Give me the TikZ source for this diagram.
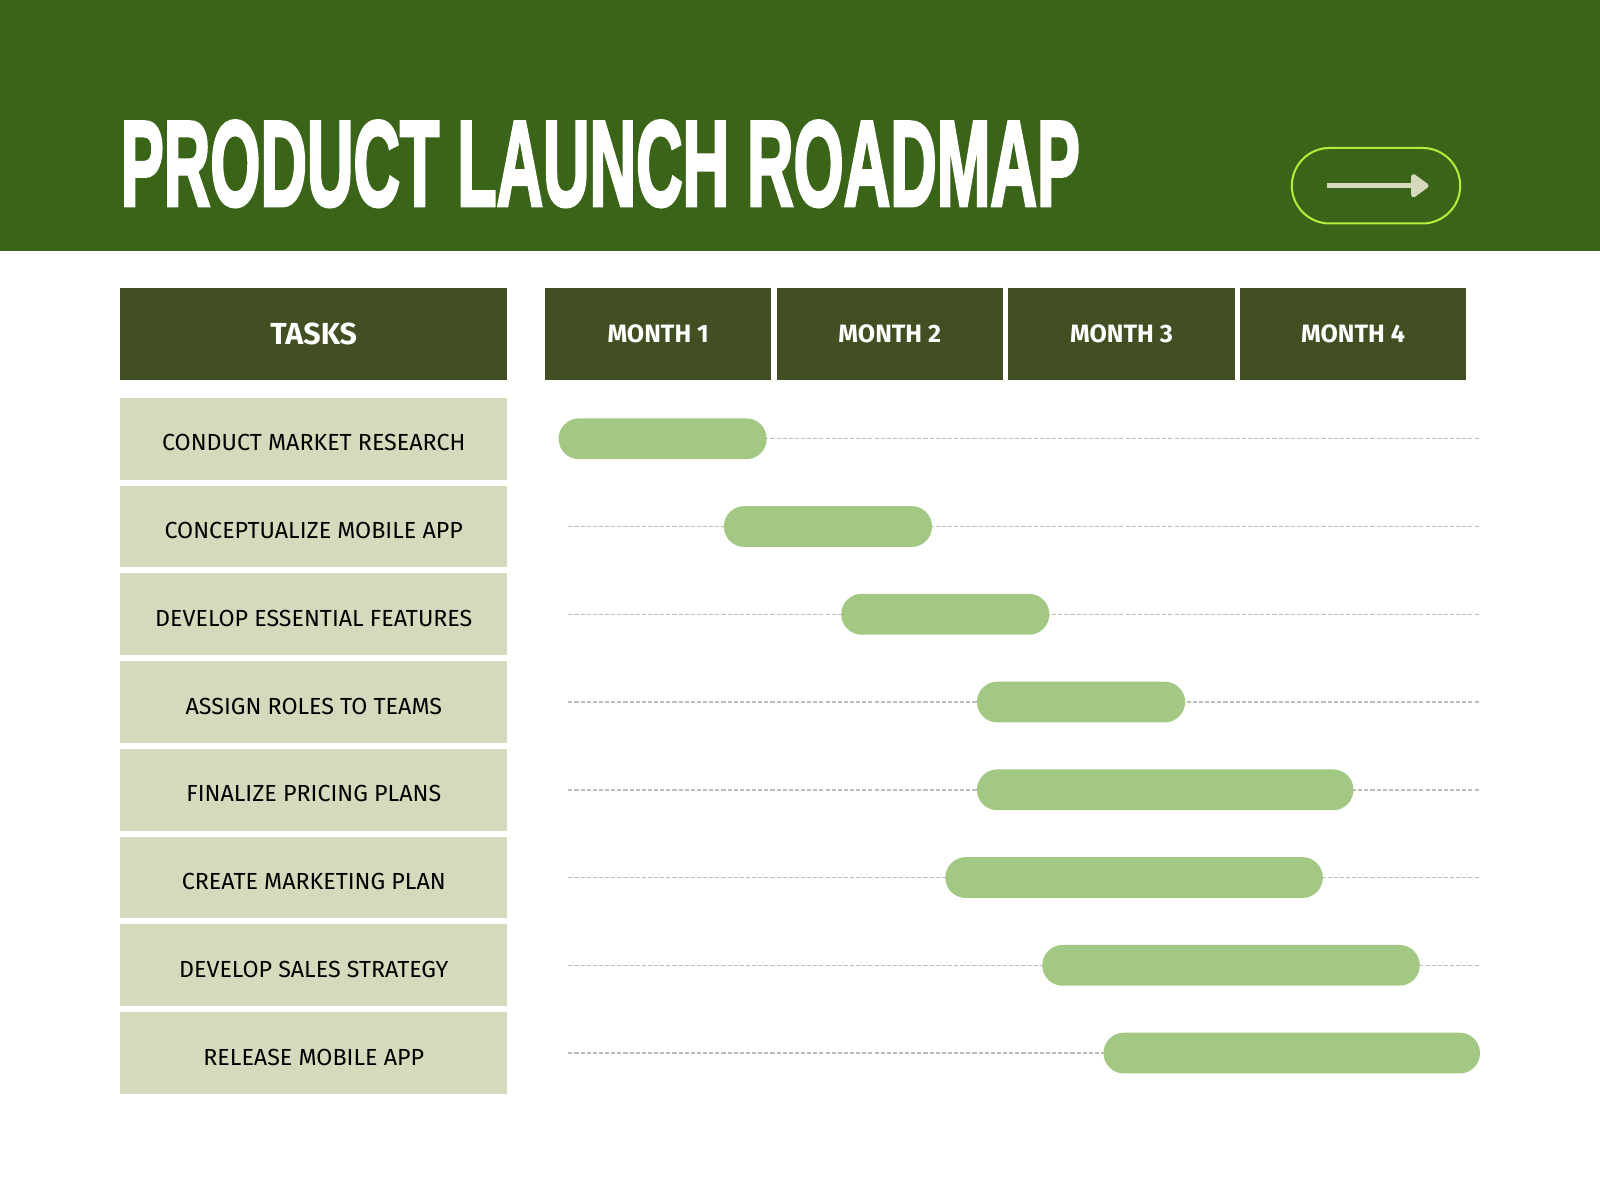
\documentclass[tikz,border=0pt]{standalone}
\usepackage{fontspec}
\setmainfont{Fira Sans}
\newfontfamily\titlefont{Liberation Sans}[FakeBold=3]
\usetikzlibrary{positioning,calc,arrows.meta}

\definecolor{headgreen}{HTML}{3A6418}
\definecolor{cellolive}{HTML}{414F22}
\definecolor{taskbeige}{HTML}{D6D9BB}
\definecolor{barleaf}{HTML}{A2C884}
\definecolor{pilllime}{HTML}{B4EE3C}
\definecolor{arrowcream}{HTML}{D8D8BE}
\definecolor{dashgray}{HTML}{BDBDB2}

\tikzset{
  headcell/.style={fill=cellolive, text=white, inner sep=0pt,
    font=\bfseries\fontsize{12.3}{14}\selectfont,
    minimum width=111pt, minimum height=45pt},
  taskcell/.style={fill=taskbeige, inner sep=0pt,
    font=\fontsize{11.4}{13}\selectfont, text height=11.8pt, text depth=0pt,
    minimum width=189.5pt, minimum height=40pt},
  ganttbar/.style={fill=barleaf, rounded corners=10pt, inner sep=0pt,
    minimum height=20pt, anchor=west},
  timeline/.style={dashgray, line width=0.7pt, dash pattern=on 2pt off 1pt}
}

\begin{document}
\begin{tikzpicture}[x=0.5pt,y=-0.5pt]
    \useasboundingbox (0,0) rectangle (1568,1176);

    % Header band
    \fill[headgreen] (0,0) rectangle (1568,246);
    \node[anchor=south west, inner sep=0pt, text=white] (title) at (118,203)
        {\resizebox{470pt}{41.5pt}{\titlefont\bfseries PRODUCT LAUNCH ROADMAP}};
    \node[draw=pilllime, line width=1pt, rounded corners=18.5pt,
          minimum width=82.5pt, minimum height=37pt] (pill) at (1348.5,182) {};
    \coordinate (arrS) at (1300,182);
    \coordinate (arrE) at (1400,182);
    \draw[arrowcream, line width=2.5pt,
          -{Triangle[round, length=9.5pt, width=13pt]}] (arrS) -- (arrE);

    % Column heads
    \node[headcell, font=\bfseries\fontsize{14.9}{17}\selectfont,
          minimum width=189.5pt] (tasks) at (307.5,327) {TASKS};
    \foreach \m/\x in {1/645,2/872,3/1099,4/1326}
        \node[headcell] (month\m) at (\x,327) {MONTH \m};

    % Task rows
    \foreach \i/\t in {1/CONDUCT MARKET RESEARCH, 2/CONCEPTUALIZE MOBILE APP,
                       3/DEVELOP ESSENTIAL FEATURES, 4/ASSIGN ROLES TO TEAMS,
                       5/FINALIZE PRICING PLANS, 6/CREATE MARKETING PLAN,
                       7/DEVELOP SALES STRATEGY, 8/RELEASE MOBILE APP}
        \node[taskcell] (task\i) at (307.5,{344+86*\i}) {\t};

    % Timelines and bars
    \foreach \i/\a/\b in {1/547/751, 2/709/913, 3/824/1028, 4/957/1161,
                          5/957/1326, 6/926/1296, 7/1021/1391, 8/1081/1450} {
        \coordinate (lineL\i) at (557,{344+86*\i});
        \coordinate (lineR\i) at (1450,{344+86*\i});
        \draw[timeline] (lineL\i) -- (lineR\i);
        \node[ganttbar, minimum width={(\b-\a)*0.5pt}] (bar\i) at (\a,{344+86*\i}) {};
    }
\end{tikzpicture}
\end{document}
